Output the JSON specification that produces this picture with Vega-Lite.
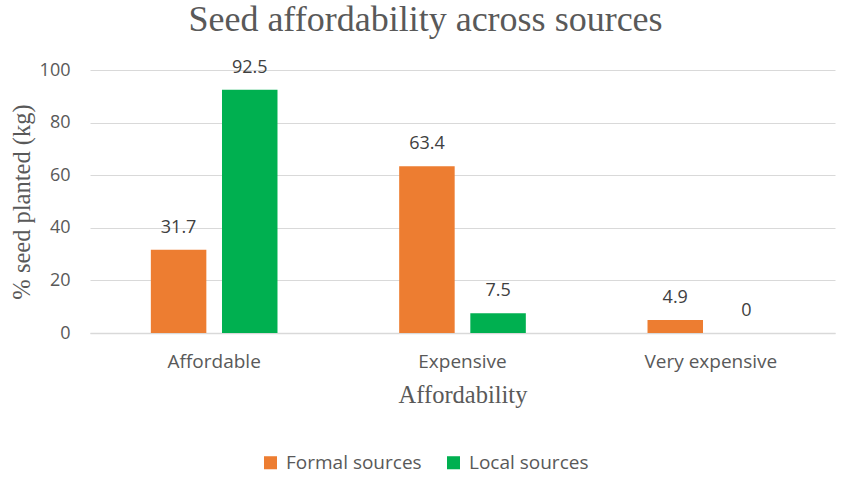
{
  "$schema": "https://vega.github.io/schema/vega-lite/v6.json",
  "width": 745,
  "height": 263,
  "autosize": {"type": "none"},
  "padding": {"left": 90, "top": 70, "right": 15, "bottom": 152},
  "background": "white",
  "title": {
    "text": "Seed affordability across sources",
    "font": "Liberation Serif",
    "fontSize": 36,
    "fontWeight": "normal",
    "color": "#595959",
    "anchor": "middle",
    "dx": -37,
    "offset": 20
  },
  "data": {
    "values": [
      {"affordability": "Affordable", "source": "Formal sources", "value": 31.7},
      {"affordability": "Affordable", "source": "Local sources", "value": 92.5},
      {"affordability": "Expensive", "source": "Formal sources", "value": 63.4},
      {"affordability": "Expensive", "source": "Local sources", "value": 7.5},
      {"affordability": "Very expensive", "source": "Formal sources", "value": 4.9},
      {"affordability": "Very expensive", "source": "Local sources", "value": 0}
    ]
  },
  "config": {
    "view": {"stroke": null},
    "axis": {
      "labelFont": "Open Sans",
      "labelFontSize": 19,
      "labelColor": "#595959",
      "titleFont": "Liberation Serif",
      "titleFontSize": 24.5,
      "titleFontWeight": "normal",
      "titleColor": "#595959",
      "ticks": false
    }
  },
  "encoding": {
    "x": {
      "field": "affordability",
      "type": "nominal",
      "sort": ["Affordable", "Expensive", "Very expensive"],
      "scale": {"paddingInner": 0.49, "paddingOuter": 0.245},
      "axis": {
        "title": "Affordability",
        "labelAngle": 0,
        "labelPadding": 19,
        "titlePadding": 12,
        "domainColor": "#d9d9d9",
        "domainWidth": 1.5
      }
    },
    "xOffset": {
      "field": "source",
      "type": "nominal",
      "sort": ["Formal sources", "Local sources"],
      "scale": {"paddingInner": 0.22}
    },
    "y": {
      "field": "value",
      "type": "quantitative",
      "scale": {"domain": [0, 100]},
      "axis": {
        "title": "% seed planted (kg)",
        "labelFontSize": 18,
        "values": [0, 20, 40, 60, 80, 100],
        "domain": false,
        "gridColor": "#d9d9d9",
        "gridWidth": 1.2,
        "labelPadding": 20,
        "titlePadding": 5
      }
    }
  },
  "layer": [
    {
      "mark": {"type": "bar"},
      "encoding": {
        "color": {
          "field": "source",
          "type": "nominal",
          "sort": ["Formal sources", "Local sources"],
          "scale": {"domain": ["Formal sources", "Local sources"], "range": ["#ED7D31", "#00B050"]},
          "legend": {
            "title": null,
            "orient": "none",
            "direction": "horizontal",
            "legendX": 171,
            "legendY": 383,
            "symbolType": "square",
            "symbolSize": 170,
            "symbolStrokeWidth": 0,
            "labelFont": "Open Sans",
            "labelFontSize": 19,
            "labelColor": "#595959",
            "columnPadding": 22,
            "labelOffset": 6
          }
        }
      }
    },
    {
      "mark": {"type": "text", "dy": -13, "baseline": "bottom", "font": "Open Sans", "fontSize": 18, "color": "#404040"},
      "encoding": {
        "text": {"field": "value", "type": "quantitative"}
      }
    }
  ]
}
